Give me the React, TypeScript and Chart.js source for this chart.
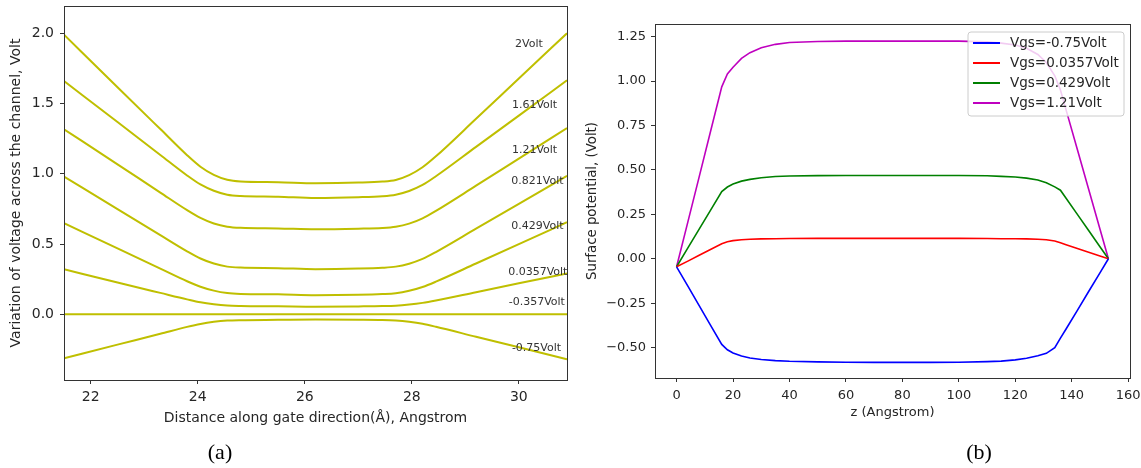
import React, { useEffect, useRef } from "react";
import { Chart, registerables } from "chart.js";
Chart.register(...registerables);

// ---------- Panel (a) data ----------
const gateX = [21.5, 22.5, 23.3, 23.8, 24.05, 24.3, 24.55, 24.8, 25.5, 26.2, 27.0, 27.45, 27.7, 27.95, 28.2, 28.45, 29.2, 30.0, 30.9];
const v2 = [1.99, 1.616, 1.318, 1.132, 1.05, 0.992, 0.957, 0.945, 0.94, 0.933, 0.937, 0.944, 0.956, 0.99, 1.046, 1.124, 1.391, 1.678, 2.0];
const v161 = [1.66, 1.368, 1.134, 0.988, 0.924, 0.879, 0.851, 0.842, 0.837, 0.828, 0.833, 0.84, 0.851, 0.877, 0.92, 0.982, 1.191, 1.414, 1.665];
const v121 = [1.317, 1.067, 0.866, 0.741, 0.686, 0.646, 0.623, 0.615, 0.611, 0.605, 0.609, 0.614, 0.623, 0.645, 0.683, 0.736, 0.915, 1.108, 1.325];
const v0821 = [0.98, 0.748, 0.563, 0.448, 0.397, 0.361, 0.339, 0.332, 0.328, 0.321, 0.325, 0.331, 0.339, 0.36, 0.394, 0.443, 0.609, 0.786, 0.985];
const v0429 = [0.648, 0.469, 0.325, 0.235, 0.196, 0.168, 0.151, 0.145, 0.142, 0.136, 0.139, 0.144, 0.15, 0.167, 0.194, 0.232, 0.361, 0.499, 0.655];
const v00357 = [0.32, 0.226, 0.152, 0.106, 0.085, 0.071, 0.062, 0.059, 0.057, 0.054, 0.056, 0.058, 0.061, 0.069, 0.081, 0.098, 0.157, 0.22, 0.29];
const vm0357 = [0, 0, 0, 0, 0, 0, 0, 0, 0, 0, 0, 0, 0, 0, 0, 0, 0, 0, 0];
const vm075 = [-0.313, -0.216, -0.139, -0.09, -0.069, -0.054, -0.045, -0.042, -0.04, -0.038, -0.039, -0.041, -0.045, -0.054, -0.068, -0.089, -0.16, -0.235, -0.32];
const seriesA = [v2, v161, v121, v0821, v0429, v00357, vm0357, vm075];

const voltLabels = ["2Volt", "1.61Volt", "1.21Volt", "0.821Volt", "0.429Volt", "0.0357Volt", "-0.357Volt", "-0.75Volt"];
const voltLabelX = [29.93, 29.87, 29.87, 29.86, 29.86, 29.8, 29.81, 29.87];
const voltLabelY = [1.924, 1.49, 1.169, 0.944, 0.628, 0.303, 0.083, -0.243];

const xTicksA = [22, 24, 26, 28, 30];
const yTicksA = [0, 0.5, 1.0, 1.5, 2.0];

// ---------- Panel (b) data ----------
const zAxis = [0, 4, 8, 12, 16, 18, 20, 23, 26, 30, 35, 40, 50, 60, 70, 80, 90, 100, 110, 115, 120, 124, 128, 131, 134, 136, 138, 142, 146, 150, 153];
const sNeg075 = [-0.045, -0.154, -0.264, -0.373, -0.482, -0.512, -0.53, -0.547, -0.558, -0.567, -0.573, -0.577, -0.58, -0.582, -0.583, -0.583, -0.583, -0.582, -0.579, -0.576, -0.569, -0.56, -0.546, -0.532, -0.5, -0.447, -0.395, -0.29, -0.184, -0.079, 0.0];
const s00357 = [-0.045, -0.013, 0.02, 0.052, 0.085, 0.096, 0.102, 0.107, 0.11, 0.112, 0.113, 0.114, 0.115, 0.115, 0.115, 0.115, 0.115, 0.115, 0.114, 0.113, 0.113, 0.112, 0.11, 0.107, 0.1, 0.09, 0.079, 0.058, 0.037, 0.016, 0.0];
const s0429 = [-0.045, 0.061, 0.167, 0.272, 0.378, 0.404, 0.421, 0.437, 0.447, 0.456, 0.463, 0.466, 0.468, 0.469, 0.469, 0.469, 0.469, 0.469, 0.467, 0.464, 0.46, 0.454, 0.443, 0.428, 0.405, 0.386, 0.341, 0.25, 0.159, 0.068, 0.0];
const s121 = [-0.045, 0.208, 0.461, 0.715, 0.968, 1.04, 1.078, 1.128, 1.16, 1.188, 1.207, 1.217, 1.223, 1.225, 1.225, 1.225, 1.225, 1.225, 1.221, 1.214, 1.203, 1.185, 1.15, 1.105, 1.03, 0.95, 0.838, 0.615, 0.391, 0.168, 0.0];
const seriesB = [sNeg075, s00357, s0429, s121];
const legendB = ["Vgs=-0.75Volt", "Vgs=0.0357Volt", "Vgs=0.429Volt", "Vgs=1.21Volt"];
const colorsB = ["#0000ff", "#ff0000", "#008000", "#bf00bf"];

const xTicksB = [0, 20, 40, 60, 80, 100, 120, 140, 160];
const yTicksB = [-0.5, -0.25, 0, 0.25, 0.5, 0.75, 1.0, 1.25];

const FONT = "'DejaVu Sans', sans-serif";
const TXT = "#262626";
const SPINE = "#333333";

const boxPlugin = {
  id: "boxPlugin",
  afterDatasetsDraw(chart: any) {
    const { ctx, chartArea: a } = chart;
    ctx.save();
    ctx.strokeStyle = SPINE;
    ctx.lineWidth = 1;
    ctx.strokeRect(Math.round(a.left) + 0.5, Math.round(a.top) + 0.5, Math.round(a.right - a.left), Math.round(a.bottom - a.top));
    ctx.restore();
  },
};

const voltLabelPlugin = {
  id: "voltLabels",
  afterDatasetsDraw(chart: any) {
    const { ctx, scales } = chart;
    ctx.save();
    ctx.font = `11px ${FONT}`;
    ctx.fillStyle = "#333333";
    ctx.textAlign = "left";
    ctx.textBaseline = "middle";
    voltLabels.forEach((t, i) => {
      ctx.fillText(t, scales.x.getPixelForValue(voltLabelX[i]), scales.y.getPixelForValue(voltLabelY[i]));
    });
    ctx.restore();
  },
};

const legendPlugin = {
  id: "legendB",
  afterDatasetsDraw(chart: any) {
    const { ctx, chartArea: a } = chart;
    const w = 156, h = 84;
    const x0 = a.right - 6 - w, y0 = a.top + 8;
    ctx.save();
    ctx.beginPath();
    const r = 3;
    ctx.moveTo(x0 + r, y0);
    ctx.lineTo(x0 + w - r, y0);
    ctx.quadraticCurveTo(x0 + w, y0, x0 + w, y0 + r);
    ctx.lineTo(x0 + w, y0 + h - r);
    ctx.quadraticCurveTo(x0 + w, y0 + h, x0 + w - r, y0 + h);
    ctx.lineTo(x0 + r, y0 + h);
    ctx.quadraticCurveTo(x0, y0 + h, x0, y0 + h - r);
    ctx.lineTo(x0, y0 + r);
    ctx.quadraticCurveTo(x0, y0, x0 + r, y0);
    ctx.closePath();
    ctx.fillStyle = "rgba(255,255,255,0.8)";
    ctx.fill();
    ctx.strokeStyle = "#cccccc";
    ctx.lineWidth = 1;
    ctx.stroke();
    ctx.font = `13.5px ${FONT}`;
    ctx.textBaseline = "middle";
    ctx.textAlign = "left";
    legendB.forEach((t, i) => {
      const yy = y0 + 11 + i * 20;
      ctx.strokeStyle = colorsB[i];
      ctx.lineWidth = 2;
      ctx.beginPath();
      ctx.moveTo(x0 + 5, yy);
      ctx.lineTo(x0 + 32, yy);
      ctx.stroke();
      ctx.fillStyle = TXT;
      ctx.fillText(t, x0 + 42, yy);
    });
    ctx.restore();
  },
};

function gridOpts() {
  return { display: true, drawOnChartArea: false, drawTicks: true, tickLength: 4, color: SPINE, lineWidth: 1 };
}

function PanelA() {
  const ref = useRef<HTMLCanvasElement>(null);
  useEffect(() => {
    const chart = new Chart(ref.current as HTMLCanvasElement, {
      type: "line",
      data: {
        datasets: seriesA.map((s) => ({
          data: gateX.map((x, i) => ({ x, y: s[i] })),
          borderColor: "#bfbf00",
          borderWidth: 2,
          pointRadius: 0,
          fill: false,
          cubicInterpolationMode: "monotone" as const,
        })),
      },
      options: {
        animation: false,
        responsive: false,
        maintainAspectRatio: false,
        layout: { padding: { left: 0, right: 13, top: 6, bottom: 0 } },
        plugins: { legend: { display: false }, tooltip: { enabled: false } },
        scales: {
          x: {
            type: "linear",
            min: 21.5,
            max: 30.9,
            afterBuildTicks: (s: any) => { s.ticks = xTicksA.map((v) => ({ value: v })); },
            afterFit: (s: any) => { s.height = 60; s.paddingLeft = 0; s.paddingRight = 0; },
            ticks: { font: { family: FONT, size: 14 }, color: TXT, padding: 5, maxRotation: 0, callback: (v: any) => String(v) },
            grid: gridOpts(),
            border: { display: false },
            title: { display: true, text: "Distance along gate direction(Å), Angstrom", font: { family: FONT, size: 14 }, color: TXT, padding: { top: 0, bottom: 13 } },
          },
          y: {
            type: "linear",
            min: -0.468,
            max: 2.194,
            afterBuildTicks: (s: any) => { s.ticks = yTicksA.map((v) => ({ value: v })); },
            afterFit: (s: any) => { s.width = 64; s.paddingTop = 0; s.paddingBottom = 0; },
            ticks: { font: { family: FONT, size: 14 }, color: TXT, padding: 6, callback: (v: any) => Number(v).toFixed(1) },
            grid: gridOpts(),
            border: { display: false },
            title: { display: true, text: "Variation of voltage across the channel, Volt", font: { family: FONT, size: 14 }, color: TXT, padding: { top: 8, bottom: 0 } },
          },
        },
      },
      plugins: [boxPlugin, voltLabelPlugin],
    } as any);
    return () => chart.destroy();
  }, []);
  return <canvas ref={ref} width={580} height={440} style={{ position: "absolute", left: 0, top: 0 }} />;
}

function PanelB() {
  const ref = useRef<HTMLCanvasElement>(null);
  useEffect(() => {
    const chart = new Chart(ref.current as HTMLCanvasElement, {
      type: "line",
      data: {
        datasets: seriesB.map((s, k) => ({
          label: legendB[k],
          data: zAxis.map((x, i) => ({ x, y: s[i] })),
          borderColor: colorsB[k],
          borderWidth: 1.6,
          pointRadius: 0,
          fill: false,
          tension: 0,
        })),
      },
      options: {
        animation: false,
        responsive: false,
        maintainAspectRatio: false,
        layout: { padding: { left: 0, right: 11, top: 24, bottom: 0 } },
        plugins: { legend: { display: false }, tooltip: { enabled: false } },
        scales: {
          x: {
            type: "linear",
            min: -7.65,
            max: 160.65,
            afterBuildTicks: (s: any) => { s.ticks = xTicksB.map((v) => ({ value: v })); },
            afterFit: (s: any) => { s.height = 62; s.paddingLeft = 0; s.paddingRight = 0; },
            ticks: { font: { family: FONT, size: 13 }, color: TXT, padding: 6, maxRotation: 0, callback: (v: any) => String(v) },
            grid: gridOpts(),
            border: { display: false },
            title: { display: true, text: "z (Angstrom)", font: { family: FONT, size: 13 }, color: TXT, padding: { top: 0, bottom: 20 } },
          },
          y: {
            type: "linear",
            min: -0.671,
            max: 1.3215,
            afterBuildTicks: (s: any) => { s.ticks = yTicksB.map((v) => ({ value: v })); },
            afterFit: (s: any) => { s.width = 75; s.paddingTop = 0; s.paddingBottom = 0; },
            ticks: { font: { family: FONT, size: 13 }, color: TXT, padding: 5, callback: (v: any) => Number(v).toFixed(2).replace("-", "\u2212") },
            grid: gridOpts(),
            border: { display: false },
            title: { display: true, text: "Surface potential, (Volt)", font: { family: FONT, size: 13.3 }, color: TXT, padding: { top: 5, bottom: 0 } },
          },
        },
      },
      plugins: [boxPlugin, legendPlugin],
    } as any);
    return () => chart.destroy();
  }, []);
  return <canvas ref={ref} width={561} height={440} style={{ position: "absolute", left: 580, top: 0 }} />;
}

const capStyle: React.CSSProperties = {
  position: "absolute",
  top: 452,
  transform: "translate(-50%, -50%)",
  fontFamily: "'Liberation Serif', 'Times New Roman', serif",
  fontSize: 22,
  lineHeight: 1,
  color: "#000",
};

export default function App() {
  return (
    <div style={{ position: "absolute", left: 0, top: 0, width: 1141, height: 468, background: "#fff", overflow: "hidden" }}>
      <PanelA />
      <PanelB />
      <div style={{ ...capStyle, left: 220 }}>(a)</div>
      <div style={{ ...capStyle, left: 979 }}>(b)</div>
    </div>
  );
}
